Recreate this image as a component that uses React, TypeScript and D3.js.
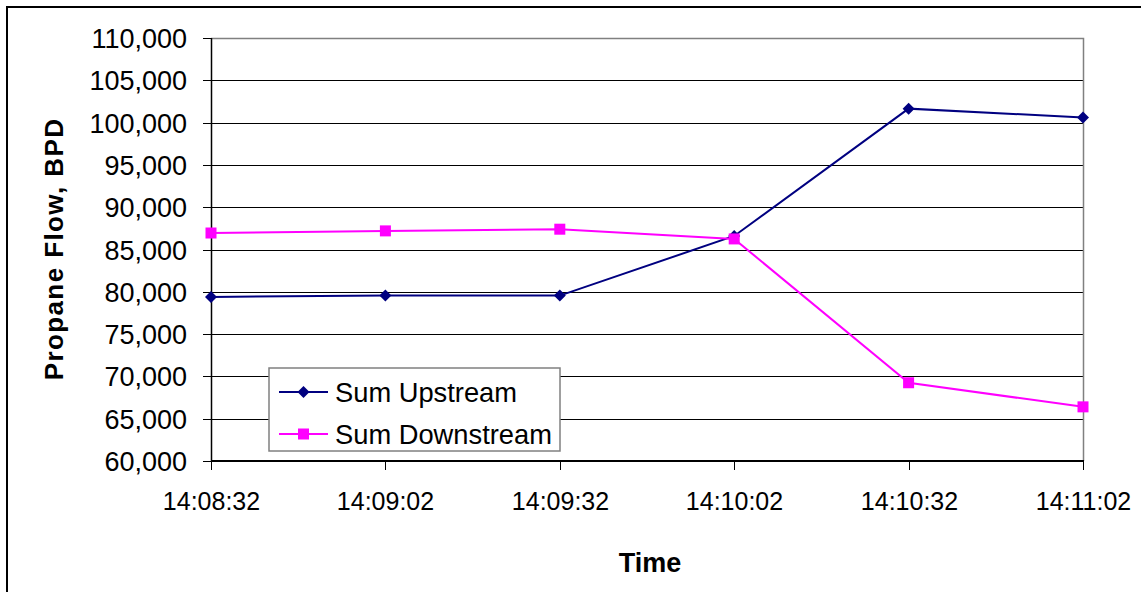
import React, { useEffect, useRef } from 'react';
import * as d3 from 'd3';

const times = ['14:08:32', '14:09:02', '14:09:32', '14:10:02', '14:10:32', '14:11:02'];
const upstream = [79400, 79550, 79550, 86600, 101650, 100600];
const downstream = [86950, 87200, 87400, 86250, 69250, 66400];
const yTicks = [60000, 65000, 70000, 75000, 80000, 85000, 90000, 95000, 100000, 105000, 110000];

const seriesDefs = [
    { name: 'Sum Upstream', values: upstream, color: '#000080', marker: 'diamond' },
    { name: 'Sum Downstream', values: downstream, color: '#FF00FF', marker: 'square' },
];

const W = 1141;
const H = 592;
const FONT = '"Liberation Sans", Arial, sans-serif';

const drawChart = (svgEl: SVGSVGElement) => {
    const svg = d3.select(svgEl);
    svg.selectAll('*').remove();

    const margin = { top: 38, right: 58, bottom: 131, left: 211 };
    const plotW = W - margin.left - margin.right;
    const plotH = H - margin.top - margin.bottom;

    // outer chart border (cut off on the right / bottom in the original)
    svg.append('rect')
        .attr('x', 7).attr('y', 7)
        .attr('width', W + 20).attr('height', H + 20)
        .attr('fill', '#fff')
        .attr('stroke', '#000')
        .attr('stroke-width', 2);

    const g = svg.append('g').attr('transform', `translate(${margin.left},${margin.top})`);

    const x = d3.scalePoint<string>().domain(times).range([0, plotW]);
    const y = d3.scaleLinear().domain([60000, 110000]).range([plotH, 0]);

    // gridlines
    g.selectAll('.grid')
        .data(yTicks.filter(t => t > 60000 && t < 110000))
        .enter()
        .append('line')
        .attr('x1', 0).attr('x2', plotW)
        .attr('y1', d => Math.round(y(d)) + 0.5)
        .attr('y2', d => Math.round(y(d)) + 0.5)
        .attr('stroke', '#000')
        .attr('stroke-width', 1);

    // plot frame: top + right grey
    g.append('path')
        .attr('d', `M0,0.5H${plotW + 0.5}V${plotH}`)
        .attr('fill', 'none')
        .attr('stroke', '#808080')
        .attr('stroke-width', 1.5);

    // y axis
    const yAxis = g.append('g');
    yAxis.append('line')
        .attr('x1', 0.5).attr('x2', 0.5).attr('y1', 0).attr('y2', plotH)
        .attr('stroke', '#000').attr('stroke-width', 1.5);
    yTicks.forEach(t => {
        const ty = Math.round(y(t)) + 0.5;
        yAxis.append('line')
            .attr('x1', -8).attr('x2', 0).attr('y1', ty).attr('y2', ty)
            .attr('stroke', '#000');
        yAxis.append('text')
            .attr('x', -24)
            .attr('y', ty)
            .attr('dy', '0.36em')
            .attr('text-anchor', 'end')
            .style('font-family', FONT)
            .style('font-size', '27px')
            .style('fill', '#000')
            .text(d3.format(',')(t));
    });

    // x axis
    const xAxis = g.append('g').attr('transform', `translate(0,${plotH})`);
    xAxis.append('line')
        .attr('x1', 0).attr('x2', plotW + 1).attr('y1', 0).attr('y2', 0)
        .attr('stroke', '#000').attr('stroke-width', 2);
    times.forEach(t => {
        const tx = Math.round(x(t) as number) + 0.5;
        xAxis.append('line')
            .attr('x1', tx).attr('x2', tx).attr('y1', 0).attr('y2', 9)
            .attr('stroke', '#000');
        xAxis.append('text')
            .attr('x', tx)
            .attr('y', 40)
            .attr('dy', '0.36em')
            .attr('text-anchor', 'middle')
            .style('font-family', FONT)
            .style('font-size', '25px')
            .style('fill', '#000')
            .text(t);
    });

    // axis titles
    svg.append('text')
        .attr('x', 650)
        .attr('y', 562)
        .attr('dy', '0.36em')
        .attr('text-anchor', 'middle')
        .style('font-family', FONT)
        .style('font-size', '27px')
        .style('font-weight', 'bold')
        .text('Time');

    svg.append('text')
        .attr('transform', 'translate(54,249) rotate(-90)')
        .attr('dy', '0.36em')
        .attr('text-anchor', 'middle')
        .style('font-family', FONT)
        .style('font-size', '26px')
        .style('font-weight', 'bold')
        .style('letter-spacing', '1.4px')
        .text('Propane Flow, BPD');

    const line = d3.line<number>()
        .x((_d, i) => x(times[i]) as number)
        .y(d => y(d));

    const drawMarker = (sel: d3.Selection<SVGGElement, unknown, null, undefined>, kind: string, color: string, cx: number, cy: number) => {
        if (kind === 'diamond') {
            sel.append('path')
                .attr('d', `M${cx},${cy - 6}L${cx + 6},${cy}L${cx},${cy + 6}L${cx - 6},${cy}Z`)
                .attr('fill', color);
        } else {
            sel.append('rect')
                .attr('x', cx - 5.5).attr('y', cy - 5.5)
                .attr('width', 11).attr('height', 11)
                .attr('fill', color);
        }
    };

    seriesDefs.forEach(s => {
        const sg = g.append('g');
        sg.append('path')
            .attr('d', line(s.values))
            .attr('fill', 'none')
            .attr('stroke', s.color)
            .attr('stroke-width', 2);
        s.values.forEach((v, i) => drawMarker(sg, s.marker, s.color, x(times[i]) as number, y(v)));
    });

    // legend
    const lg = svg.append('g').attr('transform', 'translate(269,368)');
    lg.append('rect')
        .attr('x', 0).attr('y', 0)
        .attr('width', 291).attr('height', 83)
        .attr('fill', '#fff')
        .attr('stroke', '#808080')
        .attr('stroke-width', 1.5);
    seriesDefs.forEach((s, i) => {
        const ly = 24 + i * 42;
        lg.append('line')
            .attr('x1', 10).attr('x2', 59).attr('y1', ly).attr('y2', ly)
            .attr('stroke', s.color).attr('stroke-width', 2);
        drawMarker(lg as unknown as d3.Selection<SVGGElement, unknown, null, undefined>, s.marker, s.color, 34.5, ly);
        lg.append('text')
            .attr('x', 66)
            .attr('y', ly)
            .attr('dy', '0.36em')
            .style('font-family', FONT)
            .style('font-size', '27.3px')
            .style('fill', '#000')
            .text(s.name);
    });
};

const App: React.FC = () => {
    const ref = useRef<SVGSVGElement | null>(null);

    useEffect(() => {
        if (ref.current) drawChart(ref.current);
    }, []);

    return (
        <svg
            ref={ref}
            width={W}
            height={H}
            style={{ position: 'absolute', left: 0, top: 0, display: 'block', background: '#fff' }}
        />
    );
};

export default App;
